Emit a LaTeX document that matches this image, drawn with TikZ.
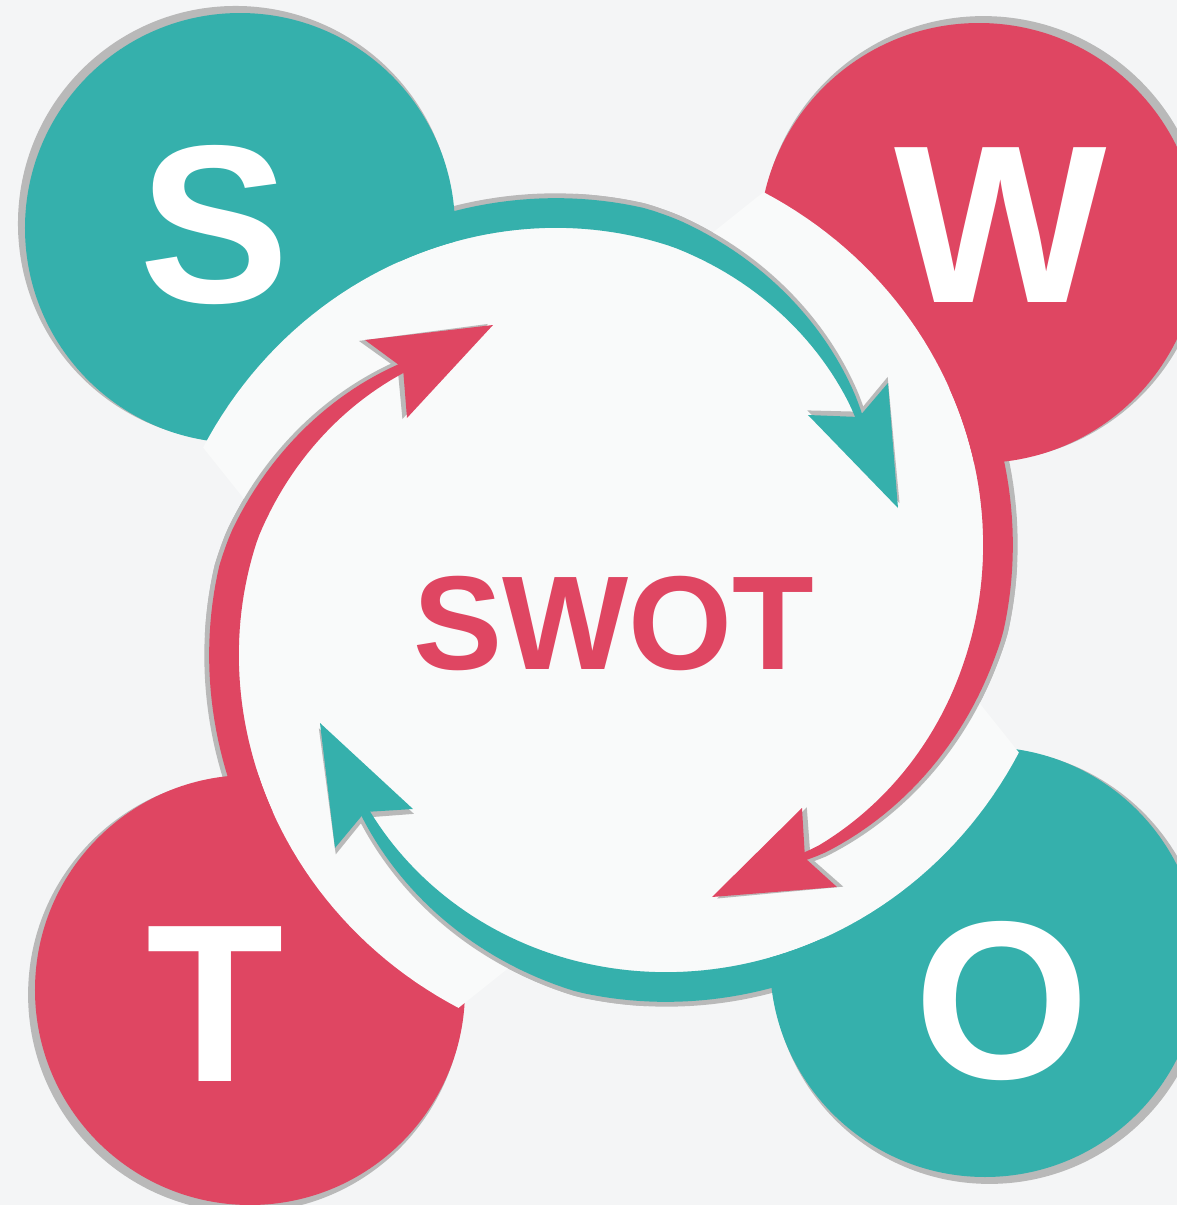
\documentclass[tikz,border=0pt]{standalone}
\usepackage{fontspec}
\setmainfont{Liberation Sans}

\definecolor{swotteal}{HTML}{35B0AC}
\definecolor{swotred}{HTML}{DF4662}
\definecolor{shade}{HTML}{B9B9B9}
\definecolor{backdrop}{HTML}{F4F5F6}
\definecolor{paper}{HTML}{F9FAFA}

% one curved arrow body between two angles, drawn as the upper-right copy
\newcommand\bandpath[2]{plot[domain=#1:#2, samples=60, variable=\t] (\t:{ro(\t)+fd(\t)*\lift})
    -- plot[domain=#2:#1, samples=60, variable=\t] (\t:{ri(\t)+fd(\t)*\lift}) -- cycle}

\begin{document}
\begin{tikzpicture}[x=0.01cm, y=0.01cm,
    declare function={rw(\t)=370+0.97*(\t-92);
                      ri(\t)=rw(\t)-0.38*max(0,80-\t);
                      ro(\t)=ri(\t)+8+22*min(1,(\t-37)/48);
                      fd(\t)=min(1,max(0,(80-\t)/40));},
    letter/.style={text=white, font=\fontsize{64}{64}\selectfont\bfseries, inner sep=0pt},
    title/.style={text=swotred, font=\fontsize{38}{38}\selectfont\bfseries, inner sep=0pt},
    dropshade/.style={fill=shade, scale=1.012},
    tipshade/.style={fill=shade, rotate=0.8, scale=1.01}]

    % page and faded backdrop
    \useasboundingbox (-611,-605) rectangle (566,600);
    \clip (-611,-605) rectangle (566,600);
    \fill[backdrop] (-611,-605) rectangle (566,600);

    % shade of the arrow bodies outside the centre
    \foreach \turn/\lift/\stop in {0/5/35.5, -90/17/36, -180/15/40, 90/0/41} {
        \fill[dropshade, rotate=\turn] \bandpath{122}{\stop};
    }

    % corner discs
    \foreach \cx/\cy/\rad/\col in {-371/372/215/swotteal, 368/357/220/swotred, -361/-390/215/swotred, 374/-362/215/swotteal} {
        \fill[dropshade] (\cx,\cy) circle (\rad);
        \fill[\col] (\cx,\cy) circle (\rad);
    }

    % light centre, cut into the discs
    \foreach \turn in {0,-90,-180,90} {
        \fill[paper, rotate=\turn] (0,0) -- (165:377) -- plot[domain=159.5:62, samples=60, variable=\t] (\t:{rw(\t)}) -- cycle;
    }

    % shade of the arrows inside the centre
    \foreach \turn/\lift/\stop in {0/5/35.5, -90/17/36, -180/15/40, 90/0/41} {
        \fill[dropshade, rotate=\turn] \bandpath{95}{\stop};
    }
    \foreach \pa/\pb/\pc/\pd in {{197,185}/{248,183}/{277,217}/{287,92}, {191,-208}/{194,-258}/{226,-287}/{101,-297},
                                 {-198,-209}/{-246,-212}/{-276,-248}/{-291,-123}, {-204,182}/{-208,232}/{-246,260}/{-118,275}} {
        \fill[tipshade] (\pa) -- (\pb) -- (\pc) -- (\pd) -- cycle;
    }

    % curved arrows
    \foreach \turn/\lift/\stop/\col in {0/5/35.5/swotteal, -90/17/36/swotred, -180/15/40/swotteal, 90/0/41/swotred} {
        \fill[\col, rotate=\turn] \bandpath{122}{\stop};
    }
    \foreach \pa/\pb/\pc/\pd/\col in {{197,185}/{248,183}/{277,217}/{287,92}/swotteal, {191,-208}/{194,-258}/{226,-287}/{101,-297}/swotred,
                                      {-198,-209}/{-246,-212}/{-276,-248}/{-291,-123}/swotteal, {-204,182}/{-208,232}/{-246,260}/{-118,275}/swotred} {
        \fill[\col] (\pa) -- (\pb) -- (\pc) -- (\pd) -- cycle;
    }

    % letters
    \node[letter] (s) at (-396,375) {S};
    \node[letter] (w) at (390,375) {W};
    \node[letter] (t) at (-396,-404) {T};
    \node[letter] (o) at (391,-401) {O};
    \node[title] (swot) at (3,-23) {SWOT};
\end{tikzpicture}
\end{document}
